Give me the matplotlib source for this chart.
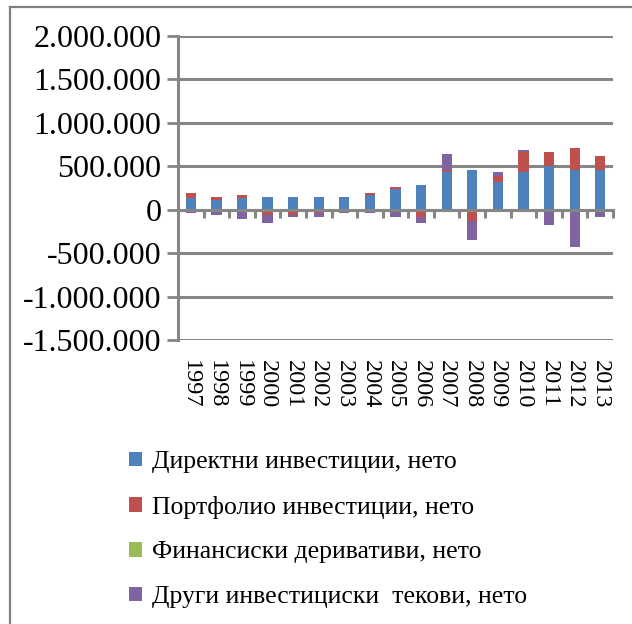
import matplotlib
matplotlib.use("Agg")
import matplotlib.pyplot as plt
from matplotlib.lines import Line2D
from matplotlib.patches import Patch
from matplotlib.ticker import FuncFormatter, FixedLocator
import numpy as np

years = ["1997", "1998", "1999", "2000", "2001", "2002", "2003", "2004", "2005",
         "2006", "2007", "2008", "2009", "2010", "2011", "2012", "2013"]

direct = [140000, 117000, 140000, 144000, 144000, 144000, 144000, 167000, 235000,
          280000, 436000, 462000, 322000, 436000, 508000, 462000, 462000]
portfolio = [49000, 27000, 27000, -64000, -64000, -38000, 0, 23000, 23000,
             -83000, 23000, -129000, 68000, 231000, 159000, 250000, 159000]
derivatives = [0, 0, 0, 0, 0, 0, 0, 0, 0, 0, 0, 0, 0, 0, 0, 0, 0]
other = [-34000, -61000, -106000, -84000, -15000, -42000, -34000, -34000, -80000,
         -65000, 186000, -223000, 49000, 23000, -174000, -424000, -83000]

series_names = ["Директни инвестиции, нето", "Портфолио инвестиции, нето",
                "Финансиски деривативи, нето", "Други инвестициски  текови, нето"]
colors = ["#4F81BD", "#C0504D", "#9BBB59", "#8064A2"]

yticks = [-1500000, -1000000, -500000, 0, 500000, 1000000, 1500000, 2000000]

plt.rcParams["font.family"] = ["Liberation Serif", "DejaVu Serif"]
GRAY = "#868686"

fig = plt.figure(figsize=(6.32, 6.24), dpi=100)
ax = fig.add_axes([178 / 632, 1 - 340 / 624, 435 / 632, 304 / 624])

x = np.arange(len(years))
pos_base = np.zeros(len(years))
neg_base = np.zeros(len(years))
for vals, col in zip([direct, portfolio, derivatives, other], colors):
    v = np.array(vals, dtype=float)
    pos = np.where(v > 0, v, 0)
    neg = np.where(v < 0, v, 0)
    ax.bar(x, pos, bottom=pos_base, width=0.4, color=col, linewidth=0, zorder=3)
    ax.bar(x, neg, bottom=neg_base, width=0.4, color=col, linewidth=0, zorder=3)
    pos_base += pos
    neg_base += neg

ax.set_xlim(-0.5, len(years) - 0.5)
ax.set_ylim(yticks[0], yticks[-1])
ax.set_yticks(yticks)
ax.yaxis.set_major_formatter(FuncFormatter(lambda v, p: f"{int(v):,}".replace(",", ".")))
ax.tick_params(axis="y", labelsize=23, length=8, width=2, color=GRAY, pad=4)
ax.yaxis.grid(True, color=GRAY, linewidth=2.2)
ax.set_axisbelow(True)

for s in ["top", "right"]:
    ax.spines[s].set_visible(False)
ax.spines["left"].set_color(GRAY)
ax.spines["left"].set_linewidth(2.2)
ax.spines["bottom"].set_position(("data", 0))
ax.spines["bottom"].set_color(GRAY)
ax.spines["bottom"].set_linewidth(2.2)
ax.spines["bottom"].set_zorder(4)
ax.xaxis.set_major_locator(FixedLocator(np.arange(len(years) + 1) - 0.5))
ax.xaxis.set_major_formatter(FuncFormatter(lambda v, p: ""))
ax.tick_params(axis="x", length=6, width=2.2, color=GRAY, direction="out")

# year labels below the plot area
for xi, lab in zip(x, years):
    ax.text(xi, -0.066, lab, transform=ax.get_xaxis_transform(), rotation=270,
            ha="center", va="top", fontsize=17.5)

handles = [Patch(facecolor=c, edgecolor="none") for c in colors]
fig.legend(handles, series_names, loc="upper left",
           bbox_to_anchor=(106 / 632, 1 - 428 / 624), frameon=False,
           fontsize=18.5, handlelength=0.5, handleheight=0.5, handletextpad=0.4,
           labelspacing=0.88)

# outer frame
fig.add_artist(Line2D([10 / 632, 10 / 632], [0, 1 - 7 / 624], transform=fig.transFigure,
                      color="#808080", linewidth=1.6))
fig.add_artist(Line2D([10 / 632, 1], [1 - 7 / 624, 1 - 7 / 624], transform=fig.transFigure,
                      color="#808080", linewidth=1.6))

fig.savefig("out.png", dpi=100)
